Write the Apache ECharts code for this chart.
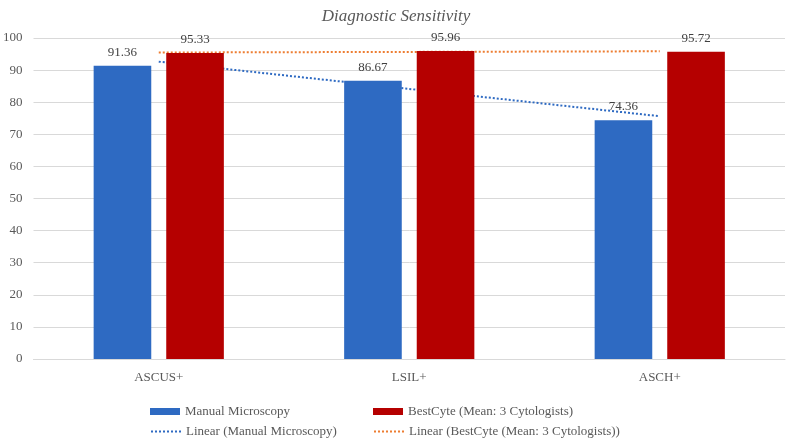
<!DOCTYPE html>
<html><head><meta charset="utf-8">
<script src="https://cdn.jsdelivr.net/npm/echarts@6/dist/echarts.min.js"></script>
<style>html,body{margin:0;padding:0;background:#fff}#c{width:792px;height:441px}</style>
</head><body><div id="c"></div>
<script>
const categories = ['ASCUS+', 'LSIL+', 'ASCH+'];
const manual = [91.36, 86.67, 74.36];
const bestcyte = [95.33, 95.96, 95.72];
const yTicks = [0, 10, 20, 30, 40, 50, 60, 70, 80, 90, 100];
const seriesNames = ['Manual Microscopy', 'BestCyte (Mean: 3 Cytologists)',
  'Linear (Manual Microscopy)', 'Linear (BestCyte (Mean: 3 Cytologists))'];

function linearFit(v) {
  const n = v.length; let sx = 0, sy = 0, sxy = 0, sxx = 0;
  v.forEach((y, i) => { const x = i + 1; sx += x; sy += y; sxy += x * y; sxx += x * x; });
  const b = (n * sxy - sx * sy) / (n * sxx - sx * sx);
  const a = (sy - b * sx) / n;
  return v.map((_, i) => +(a + b * (i + 1)).toFixed(3));
}

const FONT = '"Liberation Serif", "DejaVu Serif", serif';
const legendText = { fontFamily: FONT, fontSize: 13, color: '#595959' };
function mkLegend(name, left, top, isLine) {
  const l = { left: left, top: top, itemWidth: 30, itemHeight: 7, itemGap: 4, data: [name], textStyle: legendText };
  if (isLine) { l.itemStyle = { opacity: 0 }; l.itemHeight = 10; }
  else { l.icon = 'rect'; }
  return l;
}
const chart = echarts.init(document.getElementById('c'));
chart.setOption({
  animation: false,
  title: { text: 'Diagnostic Sensitivity', left: 'center', top: 3,
    textStyle: { fontFamily: FONT, fontStyle: 'italic', fontWeight: 'normal', fontSize: 17, color: '#595959' } },
  grid: { left: 33, right: 7, top: 38, bottom: 82 },
  xAxis: { type: 'category', data: categories,
    axisLine: { lineStyle: { color: '#d9d9d9' } }, axisTick: { show: false },
    axisLabel: { fontFamily: FONT, fontSize: 13, color: '#595959', margin: 12 } },
  yAxis: { type: 'value', min: yTicks[0], max: yTicks[yTicks.length - 1], interval: 10,
    splitLine: { lineStyle: { color: '#d9d9d9' } },
    axisLabel: { fontFamily: FONT, fontSize: 13, color: '#595959', margin: 11 } },
  legend: [
    mkLegend(seriesNames[0], 145, 400, false),
    mkLegend(seriesNames[1], 368, 400, false),
    mkLegend(seriesNames[2], 145, 420, true),
    mkLegend(seriesNames[3], 368, 420, true)
  ],
  series: [
    { name: seriesNames[0], type: 'bar', data: manual, barWidth: '23%', barGap: '26%', z: 3,
      itemStyle: { color: '#2E6AC2' },
      label: { show: true, position: 'top', distance: 7, fontFamily: FONT, fontSize: 13, color: '#404040', formatter: p => p.value.toFixed(2) } },
    { name: seriesNames[1], type: 'bar', data: bestcyte, barWidth: '23%', barGap: '26%', z: 3,
      itemStyle: { color: '#B50000' },
      label: { show: true, position: 'top', distance: 7, fontFamily: FONT, fontSize: 13, color: '#404040', formatter: p => p.value.toFixed(2) } },
    { name: seriesNames[2], type: 'line', data: linearFit(manual), symbol: 'none', z: 1,
      lineStyle: { color: '#2E6AC2', width: 2, type: [2, 2] }, itemStyle: { color: '#2E6AC2' } },
    { name: seriesNames[3], type: 'line', data: linearFit(bestcyte), symbol: 'none', z: 1,
      lineStyle: { color: '#ED7D31', width: 2, type: [2, 2] }, itemStyle: { color: '#ED7D31' } }
  ]
});
</script></body></html>
